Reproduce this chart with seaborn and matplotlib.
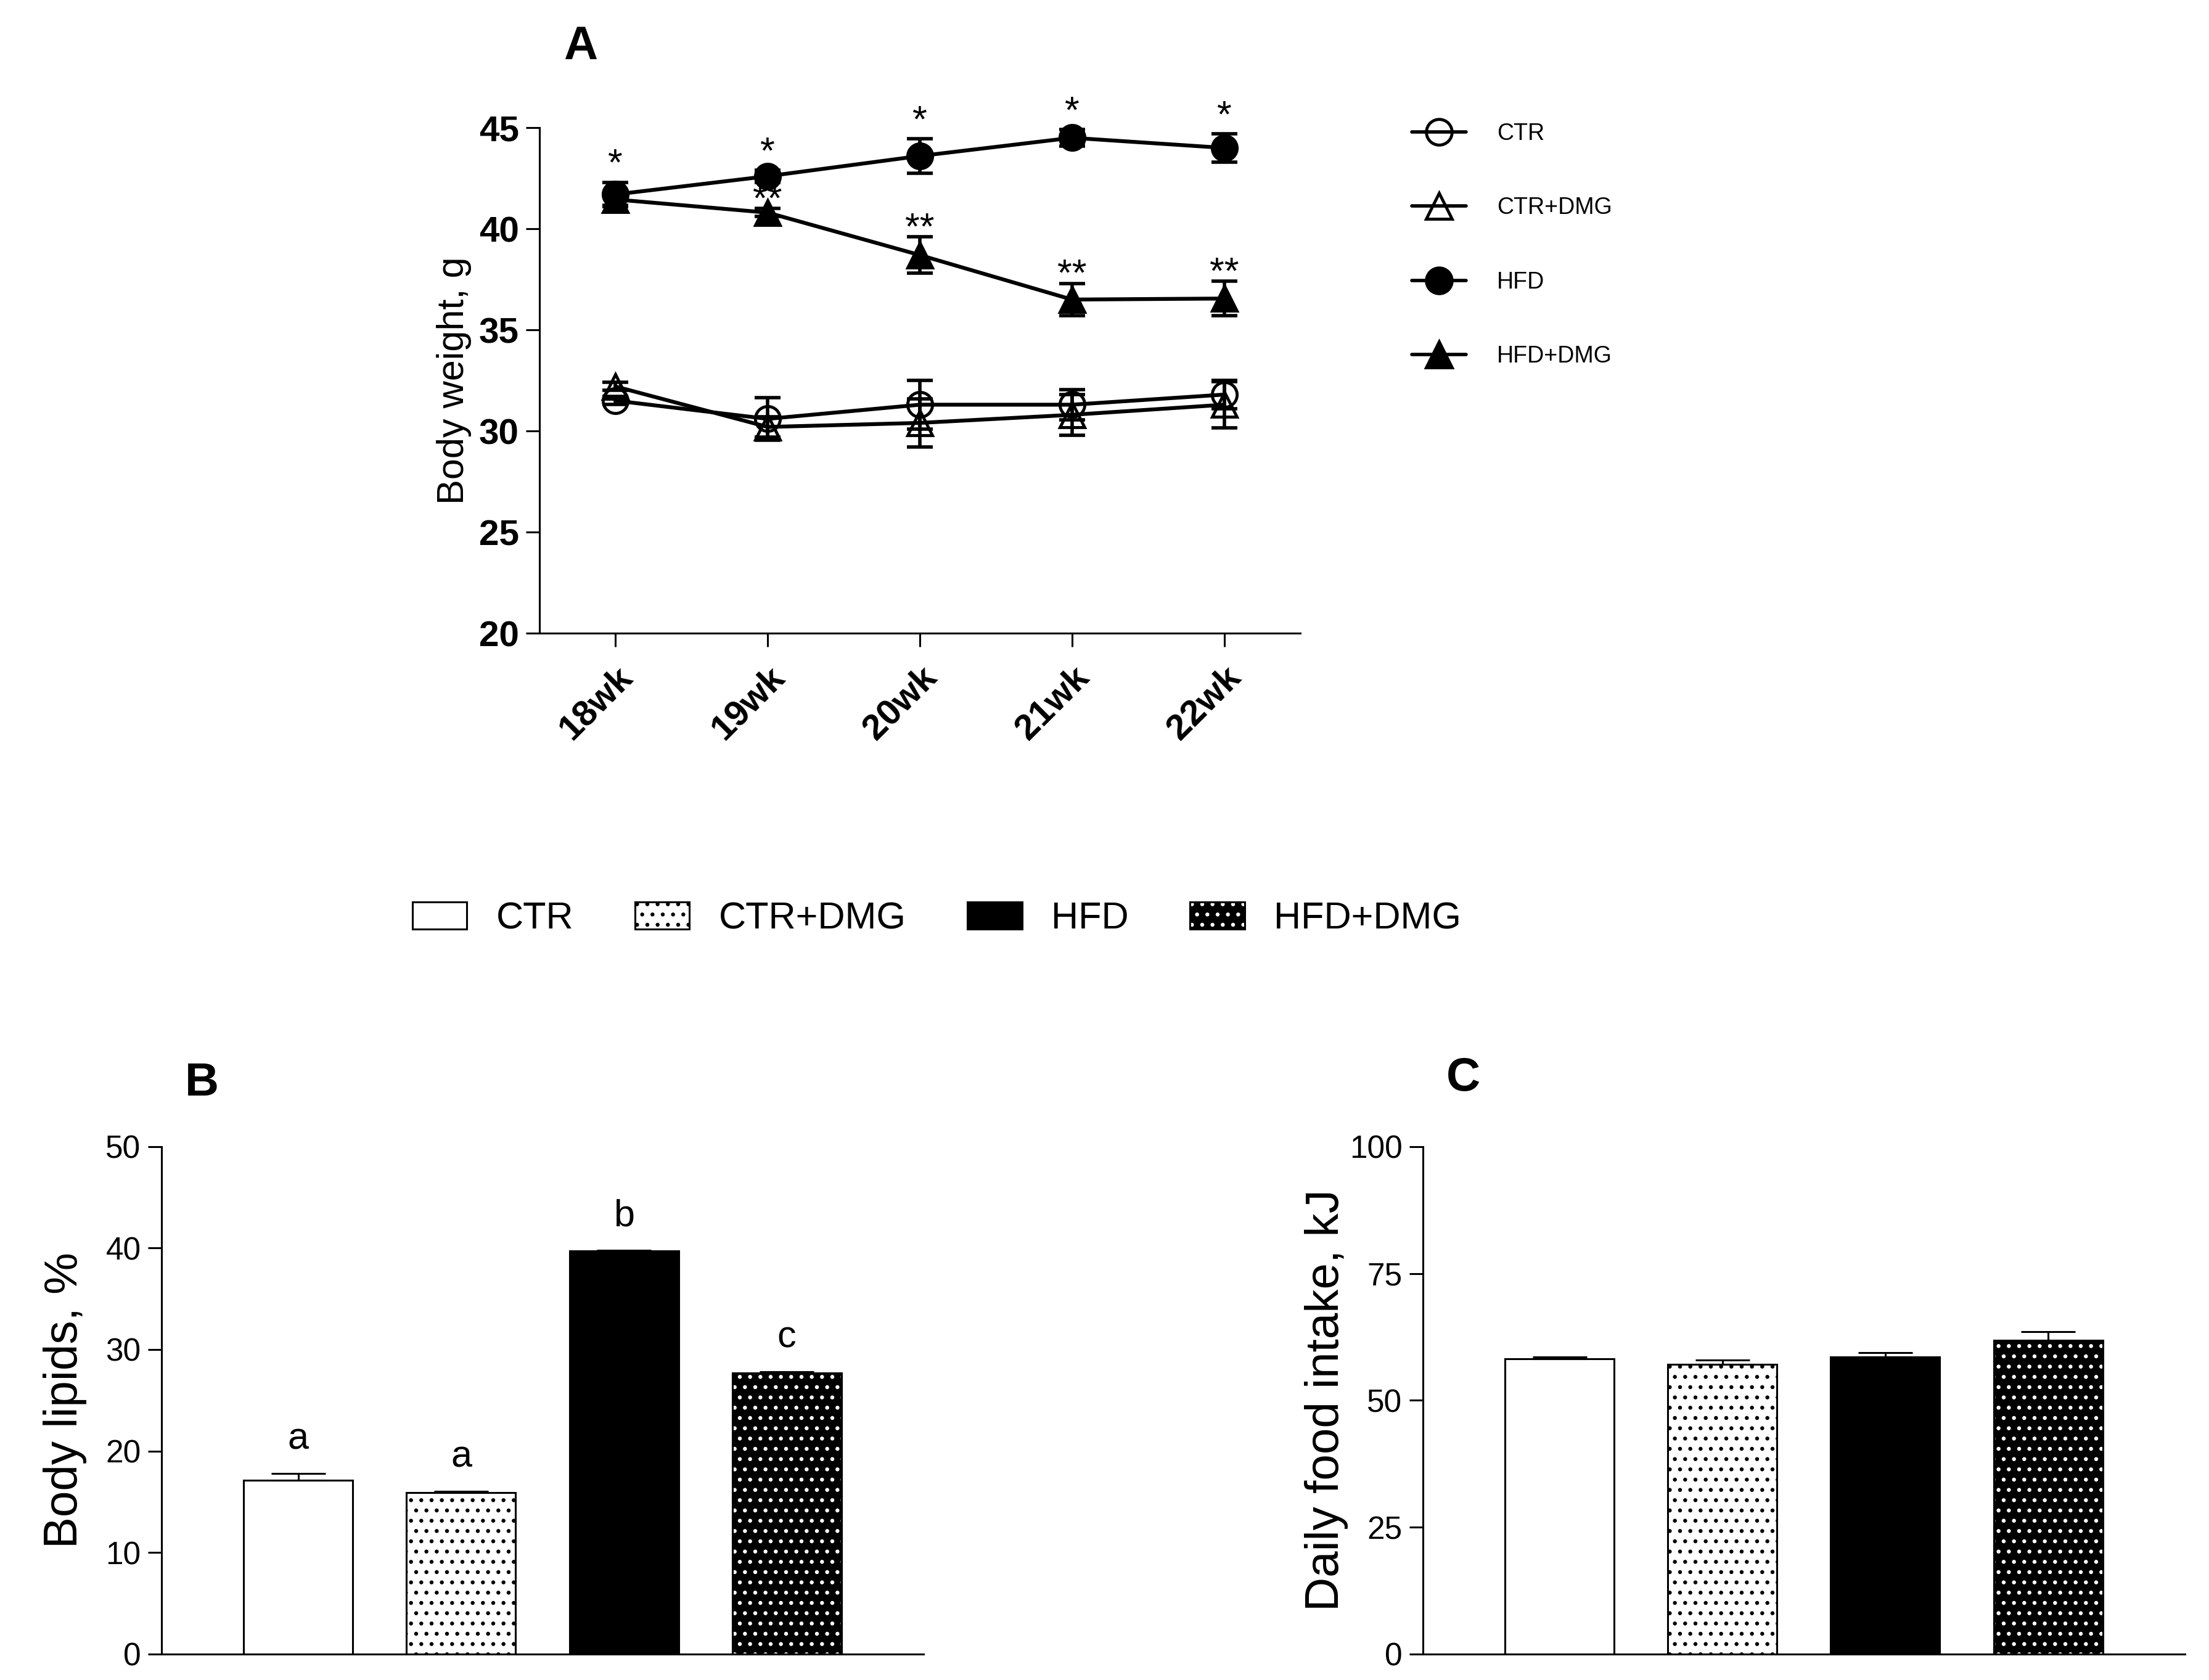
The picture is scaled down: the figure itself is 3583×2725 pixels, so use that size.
import numpy as np
import pandas as pd
import matplotlib.pyplot as plt
import seaborn as sns
from matplotlib.lines import Line2D
from matplotlib.patches import Rectangle

weeks = ['18wk', '19wk', '20wk', '21wk', '22wk']
groups = ['CTR', 'CTR+DMG', 'HFD', 'HFD+DMG']

# body weight, g  (mean, sem)
bw_ctr = [31.5, 30.6, 31.3, 31.3, 31.8]
bw_ctr_sem = [0.2, 1.05, 1.2, 0.75, 0.7]
bw_ctr_dmg = [32.2, 30.2, 30.4, 30.8, 31.3]
bw_ctr_dmg_sem = [0.2, 0.5, 1.2, 1.0, 1.15]
bw_hfd = [41.7, 42.6, 43.6, 44.5, 44.0]
bw_hfd_sem = [0.6, 0.3, 0.85, 0.4, 0.7]
bw_hfd_dmg = [41.45, 40.8, 38.7, 36.5, 36.55]
bw_hfd_dmg_sem = [0.3, 0.2, 0.9, 0.8, 0.85]
sig_hfd = ['*', '*', '*', '*', '*']
sig_hfd_dmg = ['', '**', '**', '**', '**']

# body lipids, %
lipids = [17.1, 15.9, 39.7, 27.7]
lipids_sem = [0.7, 0.15, 0.1, 0.1]
lipids_letters = ['a', 'a', 'b', 'c']

# daily food intake, kJ
intake = [58.2, 57.1, 58.6, 61.8]
intake_sem = [0.3, 0.8, 0.8, 1.7]

sns.set_style('ticks')
plt.rcParams['font.family'] = ['Liberation Sans', 'DejaVu Sans']
plt.rcParams['hatch.linewidth'] = 2.2
plt.rcParams['axes.linewidth'] = 2.2
for key in ['text.color', 'axes.labelcolor', 'xtick.color', 'ytick.color', 'axes.edgecolor']:
    plt.rcParams[key] = 'black'

fig = plt.figure(figsize=(35.83, 27.25), dpi=100)

# ---------------- A: body weight lines
axA = fig.add_axes([0.2442, 0.6231, 0.3444, 0.3009])
series = [
    ('CTR', bw_ctr, bw_ctr_sem, 'o', 'none'),
    ('CTR+DMG', bw_ctr_dmg, bw_ctr_dmg_sem, '^', 'none'),
    ('HFD', bw_hfd, bw_hfd_sem, 'o', 'k'),
    ('HFD+DMG', bw_hfd_dmg, bw_hfd_dmg_sem, '^', 'k'),
]
for name, mean, sem, mk, fc in series:
    sns.lineplot(x=weeks, y=mean, marker=mk, markersize=29, markerfacecolor=fc,
                 markeredgecolor='k', markeredgewidth=3.5, color='k', linewidth=4.5,
                 errorbar=None, clip_on=False, zorder=3, ax=axA)
    axA.errorbar(weeks, mean, yerr=sem, fmt='none', ecolor='k', elinewidth=4,
                 capsize=15, capthick=4, zorder=2, clip_on=False)

for i in range(len(weeks)):
    axA.text(i, bw_hfd[i] + bw_hfd_sem[i] + 0.36, sig_hfd[i], ha='center',
             va='baseline', fontsize=44)
    axA.text(i, bw_hfd_dmg[i] + bw_hfd_dmg_sem[i] - 0.1, sig_hfd_dmg[i], ha='center',
             va='baseline', fontsize=44)

axA.set_ylim(20, 45)
axA.set_yticks(range(20, 46, 5))
axA.set_xlim(-0.5, len(weeks) - 0.5)
axA.set_xticks(range(len(weeks)))
axA.set_xticklabels(weeks, rotation=45, ha='right', rotation_mode='anchor',
                    fontweight='bold', fontsize=42)
plt.setp(axA.get_yticklabels(), fontweight='bold', fontsize=42)
axA.tick_params(axis='y', length=16, width=2.2, pad=8)
axA.tick_params(axis='x', length=16, width=2.2, pad=16)
axA.set_xlabel('')
axA.set_ylabel('Body weight, g', fontsize=44)
axA.yaxis.set_label_coords(-0.089, 0.5)
sns.despine(ax=axA)

handles = [Line2D([], [], color='k', lw=4, marker=mk, markersize=30,
                  markerfacecolor=fc, markeredgecolor='k', markeredgewidth=3.5)
           for _, _, _, mk, fc in series]
fig.legend(handles, groups, loc='upper left', bbox_to_anchor=(0.639, 0.927),
           frameon=False, fontsize=27, handlelength=2.35, handletextpad=1.35,
           labelspacing=2.25, borderpad=0, borderaxespad=0)

fig.text(0.2629, 0.9721, 'A', fontsize=55, fontweight='bold', ha='center', va='center')


# ---------------- B, C: bar panels
def bar_panel(ax, values, sem, ymax, ystep, ylabel):
    df = pd.DataFrame({'group': groups, 'value': values})
    sns.barplot(data=df, x='group', y='value', hue='group',
                palette={'CTR': 'white', 'CTR+DMG': 'white', 'HFD': 'black', 'HFD+DMG': 'black'},
                edgecolor='k', linewidth=2.2, width=0.67, saturation=1,
                errorbar=None, legend=False, ax=ax)
    bars = list(ax.patches)
    bars[1].set_hatch('.')
    bars[3].set_edgecolor('white')
    bars[3].set_hatch('.')
    outline = Rectangle(bars[3].get_xy(), bars[3].get_width(), bars[3].get_height(),
                        fill=False, edgecolor='k', linewidth=2.2, zorder=3)
    ax.add_patch(outline)
    xs = [b.get_x() + b.get_width() / 2 for b in bars]
    ax.errorbar(xs, values, yerr=[np.zeros(len(values)), sem], fmt='none', ecolor='k',
                elinewidth=2.2, capsize=32, capthick=2.2, zorder=1)
    ax.set_ylim(0, ymax)
    ax.set_yticks(np.arange(0, ymax + 1, ystep))
    ax.set_xlim(-0.84, len(groups) - 0.16)
    ax.set_xticks([])
    ax.set_xlabel('')
    ax.set_ylabel(ylabel, fontsize=55)
    ax.yaxis.set_label_coords(-0.098, 0.5)
    ax.tick_params(axis='y', labelsize=37, length=16, width=2.2, pad=8)
    sns.despine(ax=ax)
    return bars, outline, xs


axB = fig.add_axes([0.0731, 0.0155, 0.345, 0.302])
barsB, outlineB, xsB = bar_panel(axB, lipids, lipids_sem, 50, 10, 'Body lipids, %')
for x, v, s, t in zip(xsB, lipids, lipids_sem, lipids_letters):
    axB.text(x, v + s + 2.4, t, ha='center', va='baseline', fontsize=44)

axC = fig.add_axes([0.6441, 0.0155, 0.345, 0.302])
bar_panel(axC, intake, intake_sem, 100, 25, 'Daily food intake, kJ')

fig.text(0.0915, 0.3552, 'B', fontsize=55, fontweight='bold', ha='center', va='center')
fig.text(0.6623, 0.3578, 'C', fontsize=55, fontweight='bold', ha='center', va='center')

fig.legend([barsB[0], barsB[1], barsB[2], (barsB[3], outlineB)], groups,
           loc='center', bbox_to_anchor=(0.424, 0.453), ncol=4, frameon=False,
           fontsize=44, handlelength=1.45, handleheight=0.73, handletextpad=0.77,
           columnspacing=1.63)

fig.savefig('out.png', dpi=100)
